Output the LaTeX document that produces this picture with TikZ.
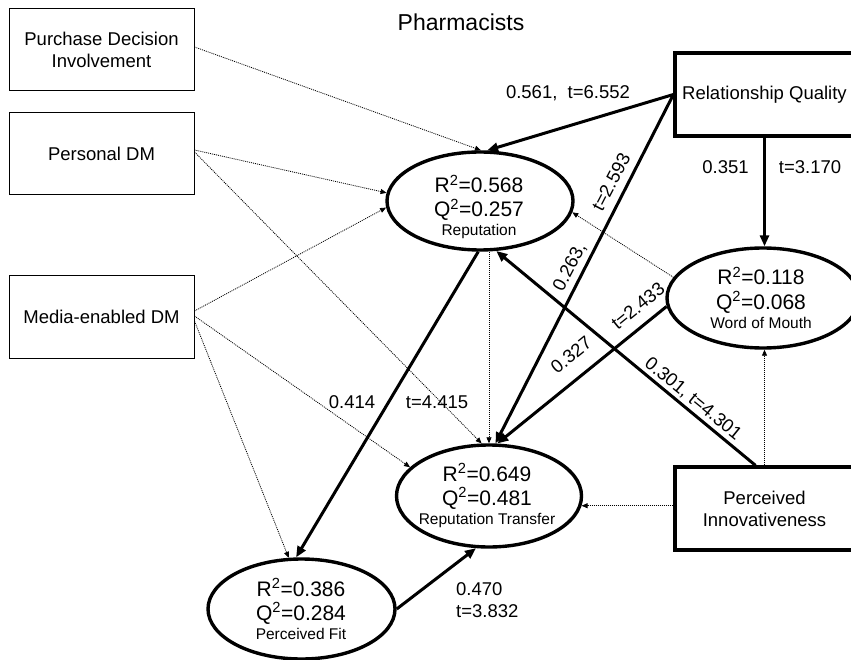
\documentclass[tikz,border=0pt]{standalone}
\usepackage{fontspec}
\setmainfont{Liberation Sans}
\usetikzlibrary{arrows.meta,shapes.geometric}

% three stacked lines inside a latent variable: R^2, Q^2 and its name
\newcommand\latentstats[6]{%
  \node[bigstat] (#1-r) at (#2,#3) {R\textsuperscript{2}=#4};
  \node[bigstat] (#1-q) at (#2,#3+24) {Q\textsuperscript{2}=#5};
  \node[smallstat] (#1-n) at (#2,#3+43) {#6};}

\begin{document}
\begin{tikzpicture}[x=1pt,y=-1pt,
  lbl/.style={inner sep=0pt, font=\fontsize{18.5}{22}\selectfont},
  thinbox/.style={draw, line width=1pt, minimum width=185pt, minimum height=82pt,
    inner sep=0pt, align=center, font=\fontsize{18.5}{22}\selectfont},
  thickbox/.style={draw, line width=3.2pt, minimum width=179pt, minimum height=83pt,
    inner sep=0pt, align=center, font=\fontsize{18.5}{22}\selectfont},
  latent/.style={draw, ellipse, line width=3.4pt, inner sep=0pt},
  bigstat/.style={anchor=base, inner sep=0pt, font=\fontsize{21}{24}\selectfont},
  smallstat/.style={anchor=base, inner sep=0pt, font=\fontsize{15.5}{18}\selectfont},
  weak/.style={line width=0.8pt, dash pattern=on 1pt off 1pt,
    -{Triangle[length=6pt,width=5pt]}},
  strong/.style={line width=3pt, -{Triangle[length=11pt,width=9pt]}},
]
\useasboundingbox (0,0) rectangle (851,660);
\clip (0,0) rectangle (851,660);
\fill[white] (0,0) rectangle (851,660);

% title
\node[inner sep=0pt, font=\fontsize{23}{27}\selectfont] (title) at (461,22) {Pharmacists};

% exogenous constructs
\node[thinbox] (pdi) at (101.5,50) {Purchase Decision\\Involvement};
\node[thinbox] (pdm) at (101.5,154) {Personal DM};
\node[thinbox] (med) at (101.5,317) {Media-enabled DM};
\node[thickbox] (rq) at (764.5,94.5) {Relationship Quality};
\node[thickbox] (pi) at (764.5,508.5) {Perceived\\Innovativeness};

% latent constructs
\node[latent, minimum width=186pt, minimum height=98pt] (rep) at (480,201) {};
\node[latent, minimum width=192pt, minimum height=100pt] (wom) at (763,298) {};
\node[latent, minimum width=185pt, minimum height=102pt] (rt) at (489,496) {};
\node[latent, minimum width=187pt, minimum height=100pt] (pf) at (301.5,609) {};

\latentstats{rep}{479}{193}{0.568}{0.257}{Reputation}
\latentstats{wom}{761}{285}{0.118}{0.068}{Word of Mouth}
\latentstats{rt}{487}{481}{0.649}{0.481}{Reputation Transfer}
\latentstats{pf}{301}{596}{0.386}{0.284}{Perceived Fit}

% non-significant paths
\draw[weak] ([yshift=3pt]pdi.east) -- (rep.89);
\draw[weak] ([yshift=4pt]pdm.east) -- (rep.175);
\draw[weak] ([yshift=2pt]pdm.east) -- (rt.98);
\draw[weak] ([yshift=6pt]med.east) -- (rep.184);
\draw[weak] ([yshift=1pt]med.east) -- (rt.160);
\draw[weak] ([yshift=-4pt]med.east) -- (pf.104);
\draw[weak] (rt.north |- rep.south) -- (rt.north);
\draw[weak] (wom.167) -- (rep.-7);
\draw[weak] (pi.north) -- (pi.north |- wom.south);
\draw[weak] (pi.west |- rt.-6) -- (rt.-6);

% significant paths
\draw[strong] (rq.west) -- (rep.82);
\draw[strong] (rq.west) -- (rt.83);
\draw[strong] (rq.south) -- (rq.south |- wom.north);
\draw[strong] (wom.185) -- (rt.81);
\draw[strong] ([xshift=-9pt]pi.north) -- (rep.-72);
\draw[strong] (rep.-92) -- (pf.96);
\draw[strong] (pf.east) -- (rt.-104);

% path coefficients and t-values
\node[lbl] (l-rqrep) at (568,93) {0.561,\ \ t=6.552};
\node[lbl] (l-rqwom-b) at (725.5,167) {0.351};
\node[lbl] (l-rqwom-t) at (810,167) {t=3.170};
\node[lbl, rotate=62.5] (l-rqrt-t) at (611,182) {t=2.593};
\node[lbl, rotate=62.5] (l-rqrt-b) at (570,267) {0.263,};
\node[lbl, rotate=39] (l-womrt-t) at (638,306) {t=2.433};
\node[lbl, rotate=39] (l-womrt-b) at (571,355) {0.327};
\node[lbl, rotate=-39.2] (l-pirep) at (693,399) {0.301, t=4.301};
\node[lbl] (l-reppf-b) at (352,402) {0.414};
\node[lbl] (l-reppf-t) at (437,402) {t=4.415};
\node[lbl, anchor=west] (l-pfrt-b) at (456,589) {0.470};
\node[lbl, anchor=west] (l-pfrt-t) at (456,611) {t=3.832};
\end{tikzpicture}
\end{document}
